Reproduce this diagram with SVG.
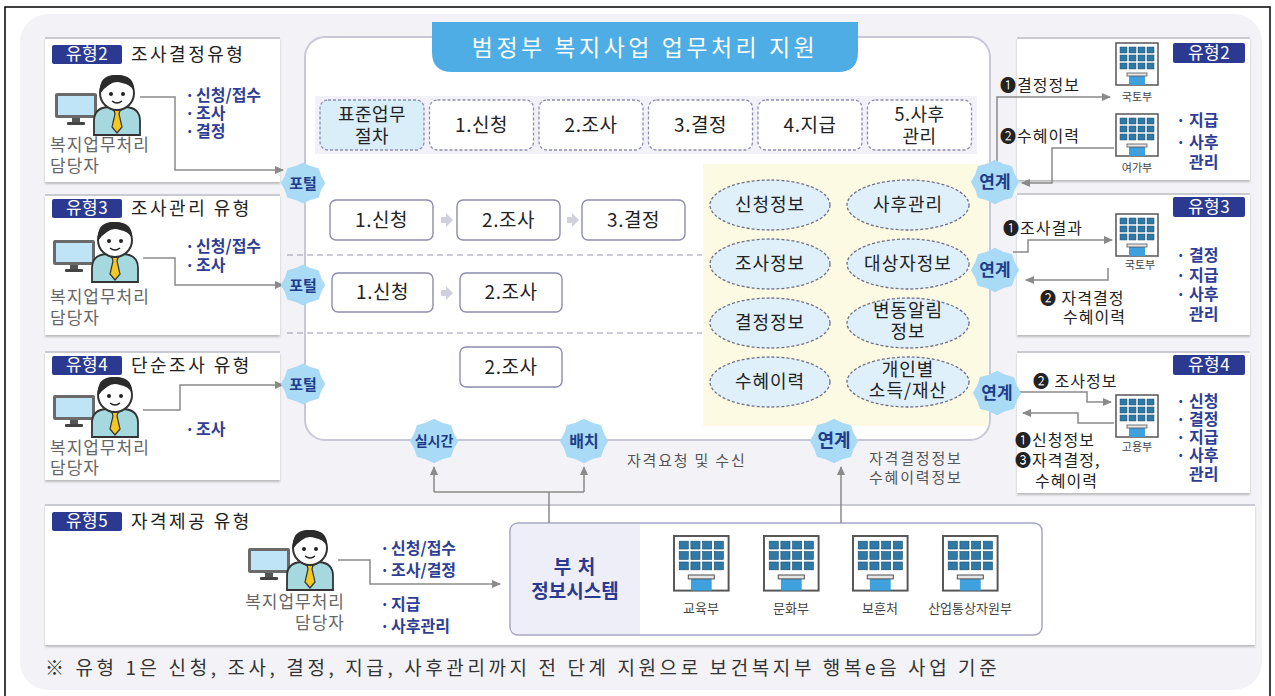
<svg xmlns="http://www.w3.org/2000/svg" width="1275" height="696" viewBox="0 0 1275 696">
<defs>
<style>
text{font-family:"Noto Sans CJK KR","DejaVu Sans",sans-serif;}
.dk{fill:#222}
.gr{fill:#666}
.bl{fill:#2e3e94;font-weight:700;font-size:16px}
.badge{fill:#2b3990}
.bt{fill:#fff;font-size:17px;text-anchor:middle;letter-spacing:.5px}
.pt{font-size:18px;fill:#222;letter-spacing:2.5px}
.who{font-size:17px;fill:#666;letter-spacing:1px}
.burst{fill:#a9daf6;stroke:#a9daf6;stroke-width:2;stroke-linejoin:round}
.bw{fill:#1f3d8a;font-weight:700;text-anchor:middle}
.bx{fill:#fff;stroke:#8c8cb0;stroke-width:1.4}
.dbx{fill:#fff;stroke:#8c8cb0;stroke-width:1.3;stroke-dasharray:3 2}
.bxt{font-size:19px;fill:#222;text-anchor:middle;letter-spacing:.5px}
.ell{fill:#dff0fb;stroke:#6f6f8a;stroke-width:1.3;stroke-dasharray:3 2}
.et{font-size:18px;fill:#222;text-anchor:middle;letter-spacing:1px}
.ln{fill:none;stroke:#8a8a8a;stroke-width:1.5}
.pnl{fill:#fff;filter:url(#sh)}
.ptop{stroke:#cacad3;stroke-width:2}
.nt{font-size:16px;fill:#222;letter-spacing:1px}
.bn{font-size:11px;fill:#444;text-anchor:middle}
.flow{fill:#cfd0dc}
.cap{font-size:15px;fill:#555;letter-spacing:1.8px}
</style>
<filter id="sh" x="-5%" y="-5%" width="110%" height="115%">
<feDropShadow dx="0" dy="2" stdDeviation="1.3" flood-color="#777" flood-opacity=".45"/>
</filter>
<marker id="ah" markerWidth="10" markerHeight="10" refX="8" refY="5" orient="auto" markerUnits="userSpaceOnUse">
<path d="M0,1 L9,5 L0,9 z" fill="#8a8a8a"/>
</marker>
<path id="burst" d="M23,0 L18.9,7.2 L16.3,15 L7.9,17.4 L0,21.2 L-7.9,17.4 L-16.3,15 L-18.9,7.2 L-23,0 L-18.9,-7.2 L-16.3,-15 L-7.9,-17.4 L0,-21.2 L7.9,-17.4 L16.3,-15 L18.9,-7.2 Z"/>
<!-- office worker at a desk monitor, origin = head centre -->
<g id="person">
<rect x="-62" y="0" width="42" height="25" rx="2" fill="#6a6a6a"/>
<rect x="-59" y="3" width="36" height="19" fill="#bfe3f7"/>
<rect x="-45" y="25" width="8" height="5" fill="#555"/>
<rect x="-50" y="29" width="18" height="3" rx="1" fill="#444"/>
<path d="M-23,42 V28 Q-23,15 -9,14 H9 Q23,15 23,28 V42 Z" fill="#a6d9df" stroke="#333" stroke-width="1.8"/>
<path d="M-8,14 L0,20 L8,14" fill="#fff" stroke="#333" stroke-width="1.2"/>
<path d="M-3,17 H3 L2,21 L5,34 L0,40 L-5,34 L-2,21 Z" fill="#f4c81e" stroke="#333" stroke-width="1.2"/>
<circle cx="0" cy="0" r="17" fill="#fff" stroke="#333" stroke-width="2"/>
<path d="M-17,1 Q-19,-19 0,-18 Q18,-18 17,-2 Q13,-9 5,-10 Q-2,-13 -8,-8 Q-13,-5 -17,1 Z" fill="#2b2b2b"/>
<circle cx="-6" cy="1" r="2" fill="#222"/>
<circle cx="6" cy="1" r="2" fill="#222"/>
<path d="M-5,8 Q0,12 5,8" fill="none" stroke="#222" stroke-width="1.5"/>
</g>
<!-- ministry building icon, 42x42 -->
<g id="bldg">
<rect x="0" y="0" width="42" height="42" fill="#fff" stroke="#555" stroke-width="1.5"/>
<g fill="#2f79a6" stroke="#1f5070" stroke-width=".5">
<rect x="4" y="4" width="7" height="6"/><rect x="13" y="4" width="7" height="6"/><rect x="22" y="4" width="7" height="6"/><rect x="31" y="4" width="7" height="6"/>
<rect x="4" y="12" width="7" height="6"/><rect x="13" y="12" width="7" height="6"/><rect x="22" y="12" width="7" height="6"/><rect x="31" y="12" width="7" height="6"/>
<rect x="4" y="20" width="7" height="6"/><rect x="13" y="20" width="7" height="6"/><rect x="22" y="20" width="7" height="6"/><rect x="31" y="20" width="7" height="6"/>
</g>
<rect x="13" y="33" width="16" height="9" fill="#3ea0dc"/>
<rect x="11" y="30" width="20" height="3" fill="#e6e6e6" stroke="#555" stroke-width=".8"/>
</g>
</defs>

<!-- page -->
<rect x="0" y="0" width="1275" height="696" fill="#fff"/>
<rect x="5" y="7" width="1265" height="700" fill="none" stroke="#111" stroke-width="1.6"/>
<rect x="20" y="14" width="1242" height="676" rx="28" fill="#f3f3f7"/>

<!-- type 2 panel (left) -->
<g id="type2">
<rect class="pnl" x="45" y="38" width="235" height="144"/>
<line class="ptop" x1="45" y1="38" x2="280" y2="38"/>
<rect class="badge" x="52" y="45" width="70" height="19" rx="2"/>
<text class="bt" x="87" y="60">유형2</text>
<text class="pt" x="131" y="61">조사결정유형</text>
<use href="#person" x="117" y="93"/>
<text class="who" x="50" y="151">복지업무처리</text>
<text class="who" x="50" y="172">담당자</text>
<text class="bl" x="185" y="101">·<tspan x="196">신청/접수</tspan></text>
<text class="bl" x="185" y="119">·<tspan x="196">조사</tspan></text>
<text class="bl" x="185" y="137">·<tspan x="196">결정</tspan></text>
</g>

<!-- type 3 panel (left) -->
<g id="type3">
<rect class="pnl" x="45" y="195" width="235" height="140"/>
<line class="ptop" x1="45" y1="195" x2="280" y2="195"/>
<rect class="badge" x="52" y="199" width="70" height="19" rx="2"/>
<text class="bt" x="87" y="214">유형3</text>
<text class="pt" x="131" y="215">조사관리 유형</text>
<use href="#person" x="115" y="240"/>
<text class="who" x="50" y="303">복지업무처리</text>
<text class="who" x="50" y="324">담당자</text>
<text class="bl" x="185" y="252">·<tspan x="196">신청/접수</tspan></text>
<text class="bl" x="185" y="271">·<tspan x="196">조사</tspan></text>
</g>

<!-- type 4 panel (left) -->
<g id="type4">
<rect class="pnl" x="45" y="352" width="235" height="128"/>
<line class="ptop" x1="45" y1="352" x2="280" y2="352"/>
<rect class="badge" x="52" y="356" width="70" height="19" rx="2"/>
<text class="bt" x="87" y="371">유형4</text>
<text class="pt" x="131" y="372">단순조사 유형</text>
<use href="#person" x="115" y="395"/>
<text class="who" x="50" y="454">복지업무처리</text>
<text class="who" x="50" y="474">담당자</text>
<text class="bl" x="185" y="435">·<tspan x="196">조사</tspan></text>
</g>

<!-- right panels -->
<g id="r-type2">
<rect class="pnl" x="1017" y="38" width="233" height="142"/>
<line class="ptop" x1="1017" y1="38" x2="1250" y2="38"/>
<rect class="badge" x="1173" y="43" width="72" height="20" rx="2"/>
<text class="bt" x="1209" y="59">유형2</text>
<use href="#bldg" x="1116" y="43"/>
<text class="bn" x="1137" y="101">국토부</text>
<use href="#bldg" x="1116" y="114"/>
<text class="bn" x="1137" y="172">여가부</text>
<text class="bl" x="1176" y="126">·<tspan x="1189">지급</tspan></text>
<text class="bl" x="1176" y="148">·<tspan x="1189">사후</tspan></text>
<text class="bl" x="1189" y="168">관리</text>
<text class="nt" x="1000" y="91">❶결정정보</text>
<text class="nt" x="1000" y="142">❷수혜이력</text>
</g>

<g id="r-type3">
<rect class="pnl" x="1017" y="194" width="233" height="141"/>
<line class="ptop" x1="1017" y1="194" x2="1250" y2="194"/>
<rect class="badge" x="1173" y="197" width="72" height="20" rx="2"/>
<text class="bt" x="1209" y="213">유형3</text>
<use href="#bldg" x="1116" y="214"/>
<text class="bn" x="1140" y="269">국토부</text>
<text class="bl" x="1176" y="261">·<tspan x="1189">결정</tspan></text>
<text class="bl" x="1176" y="281">·<tspan x="1189">지급</tspan></text>
<text class="bl" x="1176" y="300">·<tspan x="1189">사후</tspan></text>
<text class="bl" x="1189" y="320">관리</text>
<text class="nt" x="1003" y="234">❶조사결과</text>
<text class="nt" x="1040" y="304">❷ 자격결정</text>
<text class="nt" x="1063" y="323">수혜이력</text>
</g>

<g id="r-type4">
<rect class="pnl" x="1017" y="352" width="233" height="141"/>
<line class="ptop" x1="1017" y1="352" x2="1250" y2="352"/>
<rect class="badge" x="1173" y="355" width="72" height="20" rx="2"/>
<text class="bt" x="1209" y="371">유형4</text>
<use href="#bldg" x="1116" y="395"/>
<text class="bn" x="1137" y="451">고용부</text>
<text class="bl" x="1176" y="407">·<tspan x="1189">신청</tspan></text>
<text class="bl" x="1176" y="425">·<tspan x="1189">결정</tspan></text>
<text class="bl" x="1176" y="443">·<tspan x="1189">지급</tspan></text>
<text class="bl" x="1176" y="461">·<tspan x="1189">사후</tspan></text>
<text class="bl" x="1189" y="480">관리</text>
<text class="nt" x="1033" y="387">❷ 조사정보</text>
<text class="nt" x="1015" y="446">❶신청정보</text>
<text class="nt" x="1015" y="466">❸자격결정,</text>
<text class="nt" x="1035" y="487">수혜이력</text>
</g>

<!-- type 5 panel (bottom) -->
<g id="type5">
<rect class="pnl" x="45" y="505" width="1210" height="140"/>
<line class="ptop" x1="45" y1="505" x2="1255" y2="505"/>
<rect class="badge" x="52" y="512" width="70" height="19" rx="2"/>
<text class="bt" x="87" y="527">유형5</text>
<text class="pt" x="131" y="528">자격제공 유형</text>
<use href="#person" x="310" y="548"/>
<text class="who" x="345" y="608" text-anchor="end">복지업무처리</text>
<text class="who" x="345" y="629" text-anchor="end">담당자</text>
<text class="bl" x="380" y="554">·<tspan x="391">신청/접수</tspan></text>
<text class="bl" x="380" y="576">·<tspan x="391">조사/결정</tspan></text>
<text class="bl" x="380" y="610">·<tspan x="391">지급</tspan></text>
<text class="bl" x="380" y="632">·<tspan x="391">사후관리</tspan></text>
</g>

<!-- ministry information systems -->
<g id="ministry-systems">
<rect x="510" y="523" width="532" height="112" rx="8" fill="#fff" stroke="#a5a5c5" stroke-width="1.5"/>
<path d="M518,524 H640 V634 H518 Q511,634 511,627 V531 Q511,524 518,524 Z" fill="#eeeef8"/>
<text x="575" y="574" text-anchor="middle" style="font-size:19px;font-weight:700;fill:#2b3990;letter-spacing:1px">부 처</text>
<text x="575" y="598" text-anchor="middle" style="font-size:19px;font-weight:700;fill:#2b3990">정보시스템</text>
<use href="#bldg" transform="translate(674,536) scale(1.3)"/>
<use href="#bldg" transform="translate(764,536) scale(1.3)"/>
<use href="#bldg" transform="translate(853,536) scale(1.3)"/>
<use href="#bldg" transform="translate(943,536) scale(1.3)"/>
<text class="bn" x="701" y="613" style="font-size:13px">교육부</text>
<text class="bn" x="791" y="613" style="font-size:13px">문화부</text>
<text class="bn" x="880" y="613" style="font-size:13px">보훈처</text>
<text class="bn" x="970" y="613" style="font-size:13px">산업통상자원부</text>
</g>

<!-- central support frame -->
<g id="main-frame">
<rect x="305" y="37" width="685" height="403" rx="20" fill="#fff" stroke="#c8c8d6" stroke-width="2"/>
<path d="M432,22 H858 V52 Q858,72 838,72 H452 Q432,72 432,52 Z" fill="#4dade4"/>
<text x="645" y="56" text-anchor="middle" style="font-size:23px;fill:#fff;letter-spacing:3.5px">범정부 복지사업 업무처리 지원</text>
<rect x="315" y="96" width="662" height="58" fill="#f1f1f7"/>
<rect x="703" y="164" width="285" height="262" fill="#fdfae3"/>
<line x1="287" y1="255" x2="702" y2="255" stroke="#9a9ab0" stroke-width="1.2" stroke-dasharray="6 4"/>
<line x1="287" y1="333" x2="702" y2="333" stroke="#9a9ab0" stroke-width="1.2" stroke-dasharray="6 4"/>
</g>

<!-- standard process steps -->
<g id="std-steps">
<rect x="320" y="100" width="104" height="50" rx="8" class="dbx" style="fill:#d9eef9"/>
<text class="bxt" x="372" y="121" style="font-size:18px">표준업무</text>
<text class="bxt" x="372" y="143" style="font-size:18px">절차</text>
<rect x="429.5" y="100" width="104" height="50" rx="8" class="dbx"/>
<text class="bxt" x="481.5" y="132">1.신청</text>
<rect x="539" y="100" width="104" height="50" rx="8" class="dbx"/>
<text class="bxt" x="591" y="132">2.조사</text>
<rect x="648.5" y="100" width="104" height="50" rx="8" class="dbx"/>
<text class="bxt" x="700.5" y="132">3.결정</text>
<rect x="758" y="100" width="104" height="50" rx="8" class="dbx"/>
<text class="bxt" x="810" y="132">4.지급</text>
<rect x="867.5" y="100" width="104" height="50" rx="8" class="dbx"/>
<text class="bxt" x="919.5" y="121" style="font-size:18px">5.사후</text>
<text class="bxt" x="919.5" y="143" style="font-size:18px">관리</text>
</g>

<!-- per-type flows -->
<g id="flow-type2">
<rect class="bx" x="330" y="200" width="103" height="40" rx="6"/>
<text class="bxt" x="381.5" y="227">1.신청</text>
<path class="flow" d="M441,217 h5 v-4 l7,7 l-7,7 v-4 h-5 z"/>
<rect class="bx" x="457" y="200" width="103" height="40" rx="6"/>
<text class="bxt" x="508.5" y="227">2.조사</text>
<path class="flow" d="M567,217 h5 v-4 l7,7 l-7,7 v-4 h-5 z"/>
<rect class="bx" x="582" y="200" width="103" height="40" rx="6"/>
<text class="bxt" x="633.5" y="227">3.결정</text>
</g>
<g id="flow-type3">
<rect class="bx" x="332" y="273" width="101" height="39" rx="6"/>
<text class="bxt" x="382.5" y="299">1.신청</text>
<path class="flow" d="M441,290 h5 v-4 l7,7 l-7,7 v-4 h-5 z"/>
<rect class="bx" x="460" y="273" width="102" height="39" rx="6"/>
<text class="bxt" x="511" y="299">2.조사</text>
</g>
<g id="flow-type4">
<rect class="bx" x="460" y="347" width="102" height="40" rx="6"/>
<text class="bxt" x="511" y="374">2.조사</text>
</g>

<!-- shared data -->
<g id="data-store">
<ellipse class="ell" cx="770" cy="205" rx="60" ry="25"/>
<text class="et" x="770" y="211">신청정보</text>
<ellipse class="ell" cx="908" cy="205" rx="61" ry="25"/>
<text class="et" x="908" y="211">사후관리</text>
<ellipse class="ell" cx="770" cy="264" rx="60" ry="25"/>
<text class="et" x="770" y="270">조사정보</text>
<ellipse class="ell" cx="908" cy="264" rx="61" ry="25"/>
<text class="et" x="908" y="270">대상자정보</text>
<ellipse class="ell" cx="770" cy="323" rx="60" ry="25"/>
<text class="et" x="770" y="329">결정정보</text>
<ellipse class="ell" cx="908" cy="323" rx="61" ry="25"/>
<text class="et" x="908" y="317">변동알림</text>
<text class="et" x="908" y="338">정보</text>
<ellipse class="ell" cx="770" cy="382" rx="60" ry="25"/>
<text class="et" x="770" y="388">수혜이력</text>
<ellipse class="ell" cx="908" cy="382" rx="61" ry="25"/>
<text class="et" x="908" y="376">개인별</text>
<text class="et" x="908" y="397">소득/재산</text>
</g>

<!-- connectors -->
<g id="connectors">
<path class="ln" d="M140,97 H175 V170 H283" marker-end="url(#ah)"/>
<path class="ln" d="M143,258 H175 V285 H283" marker-end="url(#ah)"/>
<path class="ln" d="M143,410 H180 V385 H283" marker-end="url(#ah)"/>
<path class="ln" d="M338,560 H370 V584 H500" marker-end="url(#ah)"/>
<path class="ln" d="M549,523 V492"/>
<path class="ln" d="M434,492 H584"/>
<path class="ln" d="M434,492 V467" marker-end="url(#ah)"/>
<path class="ln" d="M584,492 V467" marker-end="url(#ah)"/>
<path class="ln" d="M841,523 V467" marker-end="url(#ah)"/>
<path class="ln" d="M997,165 V97 H1110" marker-end="url(#ah)"/>
<path class="ln" d="M1114,148 H1052 V183 H1022" marker-end="url(#ah)"/>
<path class="ln" d="M1013,252 H1028 V240 H1112" marker-end="url(#ah)"/>
<path class="ln" d="M1108,268 V280 H1026" marker-end="url(#ah)"/>
<path class="ln" d="M1019,392 H1087 V402 H1111" marker-end="url(#ah)"/>
<path class="ln" d="M1114,423 H1078 V413 H1023" marker-end="url(#ah)"/>
</g>

<!-- channel badges -->
<g id="portal-1"><use href="#burst" class="burst" transform="translate(303,183) scale(.92)"/><text class="bw" x="303" y="189" style="font-size:15px">포털</text></g>
<g id="portal-2"><use href="#burst" class="burst" transform="translate(303,285) scale(.92)"/><text class="bw" x="303" y="291" style="font-size:15px">포털</text></g>
<g id="portal-3"><use href="#burst" class="burst" transform="translate(303,384) scale(.92)"/><text class="bw" x="303" y="390" style="font-size:15px">포털</text></g>
<g id="link-r1"><use href="#burst" class="burst" transform="translate(995,182)"/><text class="bw" x="995" y="188" style="font-size:17px">연계</text></g>
<g id="link-r2"><use href="#burst" class="burst" transform="translate(995,270)"/><text class="bw" x="995" y="276" style="font-size:17px">연계</text></g>
<g id="link-r3"><use href="#burst" class="burst" transform="translate(997,393)"/><text class="bw" x="997" y="399" style="font-size:17px">연계</text></g>
<g id="realtime"><use href="#burst" class="burst" transform="translate(434,441)"/><text class="bw" x="434" y="446" style="font-size:14px">실시간</text></g>
<g id="batch"><use href="#burst" class="burst" transform="translate(584,441)"/><text class="bw" x="584" y="447" style="font-size:16px">배치</text></g>
<g id="link-bottom"><use href="#burst" class="burst" transform="translate(834,441)"/><text class="bw" x="834" y="447" style="font-size:18px">연계</text></g>

<text class="cap" x="627" y="466">자격요청 및 수신</text>
<text class="cap" x="869" y="464">자격결정정보</text>
<text class="cap" x="869" y="483">수혜이력정보</text>

<!-- footnote -->
<text x="45" y="675" style="font-size:19px;fill:#333;letter-spacing:3.6px">※ 유형 1은 신청, 조사, 결정, 지급, 사후관리까지 전 단계 지원으로 보건복지부 행복e음 사업 기준</text>
</svg>
